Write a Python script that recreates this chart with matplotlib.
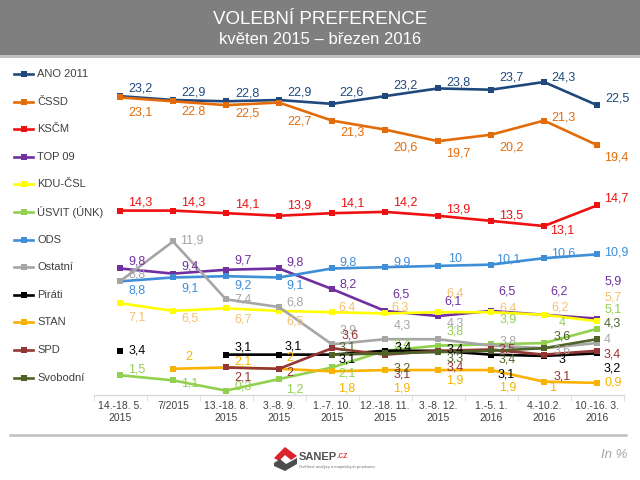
import numpy as np
import matplotlib
matplotlib.use("Agg")
import matplotlib.pyplot as plt
from matplotlib.lines import Line2D
from matplotlib.patches import Polygon, Rectangle

plt.rcParams['font.family'] = ['Liberation Sans', 'DejaVu Sans']

### DATA

periods = ["14.-18. 5.\n2015", "7/2015", "13.-18. 8.\n2015", "3.-8. 9.\n2015",
           "1.-7. 10.\n2015", "12.-18. 11.\n2015", "3.-8. 12.\n2015",
           "1.-5. 1.\n2016", "4.-10.2.\n2016", "10.-16. 3.\n2016"]

parties = ["ANO 2011", "ČSSD", "KSČM", "TOP 09", "KDU-ČSL", "ÚSVIT (ÚNK)",
           "ODS", "Ostatní", "Piráti", "STAN", "SPD", "Svobodní"]

nan = np.nan
ano = [23.2, 22.9, 22.8, 22.9, 22.6, 23.2, 23.8, 23.7, 24.3, 22.5]
cssd = [23.1, 22.8, 22.5, 22.7, 21.3, 20.6, 19.7, 20.2, 21.3, 19.4]
kscm = [14.3, 14.3, 14.1, 13.9, 14.1, 14.2, 13.9, 13.5, 13.1, 14.7]
top09 = [9.8, 9.4, 9.7, 9.8, 8.2, 6.5, 6.1, 6.5, 6.2, 5.9]
kdu = [7.1, 6.5, 6.7, 6.5, 6.4, 6.3, 6.4, 6.4, 6.2, 5.7]
usvit = [1.5, 1.1, 0.3, 1.2, 2.1, 3.4, 3.8, 3.9, 4.0, 5.1]
ods = [8.8, 9.1, 9.2, 9.1, 9.8, 9.9, 10.0, 10.1, 10.6, 10.9]
ostatni = [8.8, 11.9, 7.4, 6.8, 3.9, 4.3, 4.3, 3.8, 3.6, 4.0]
pirati = [3.4, nan, 3.1, 3.1, 3.1, 3.4, 3.4, 3.1, 3.0, 3.2]
stan = [nan, 2.0, 2.1, 2.0, 1.8, 1.9, 1.9, 1.9, 1.0, 0.9]
spd = [nan, nan, 2.1, 2.0, 3.6, 3.1, 3.4, 3.5, 3.1, 3.4]
svobodni = [nan, nan, nan, nan, 3.1, 3.2, 3.3, 3.4, 3.6, 4.3]

series = [ano, cssd, kscm, top09, kdu, usvit, ods, ostatni, pirati, stan, spd, svobodni]

# label text as printed in the source (one label uses a dot)
label_text_fix = {(1, 1): "22.8"}

### STYLE

line_colors = ['#1f497d', '#e36c09', '#ee1111', '#7030a0', '#ffff00', '#92d050',
               '#3f8ed8', '#a6a6a6', '#000000', '#f9b200', '#943634', '#4f6228']
label_colors = ['#1f497d', '#e36c09', '#ee1111', '#7030a0', '#f4c06f', '#92d050',
                '#3f8ed8', '#a6a6a6', '#000000', '#f6b400', '#943634', '#4f6228']

# label centre offsets from the marker, image pixels (dx right, dy down)
label_pos = [
    [(20, -8), (20, -8), (21, -8), (20, -8), (19, -11), (20, -11), (20, -6), (20, -12), (19, -5), (20, -7)],
    [(20, 15), (20, 11), (21, 8), (20, 19), (20, 12), (20, 18), (20, 12), (21, 13), (19, -3), (19, 12)],
    [(20, -8), (20, -8), (21, -9), (20, -10), (20, -10), (20, -9), (20, -6), (20, -5), (18, 4), (19, -7)],
    [(17, -7), (17, -7), (17, -9), (16, -6), (16, -5), (16, -16), (15, -15), (16, -19), (15, -23), (16, -37)],
    [(17, 14), (17, 8), (17, 11), (16, 11), (15, -5), (15, -6), (17, -19), (17, -4), (16, -7), (16, -24)],
    [(17, -6), (17, 3), (17, -4), (16, 10), (15, 6), (17, -6), (17, -14), (17, -25), (18, -20), (16, -19)],
    [(17, 9), (17, 11), (17, 9), (16, 8), (16, -6), (17, -5), (17, -7), (17, -5), (19, -5), (19, -2)],
    [(17, -7), (19, -1), (17, 0), (16, -5), (16, -14), (17, -14), (17, -16), (17, -4), (18, 2), (10, -3)],
    [(17, 0), None, (17, -7), (14, -8), (15, 5), (18, -3), (17, -1), (15, 20), (18, 4), (15, 15)],
    [None, (16, -12), (17, -6), (11, -11), (15, 17), (17, 18), (17, 10), (17, 17), (9, 6), (16, 0)],
    [None, None, (17, 10), (11, 4), (18, -13), (17, 20), (17, 17), (16, 0), (18, 22), (15, 4)],
    [None, None, None, None, (15, -7), (17, 15), (17, 6), (16, 9), (18, -12), (15, -16)],
]

W, H = 640, 480


def fx(px):
    return px / W


def fy(py):
    return 1 - py / H


fig = plt.figure(figsize=(6.4, 4.8), dpi=100)
fig.patch.set_facecolor('white')

## header band
fig.add_artist(Rectangle((0, fy(55)), 1, 55 / H, transform=fig.transFigure,
                         facecolor='#7f7f7f', edgecolor='none'))
fig.add_artist(Rectangle((0, fy(58)), 1, 3 / H, transform=fig.transFigure,
                         facecolor='#bfbfbf', edgecolor='none'))
fig.text(0.5, fy(19), "VOLEBNÍ PREFERENCE", color='white', fontsize=13.5,
         ha='center', va='center')
fig.text(0.5, fy(39), "květen 2015 – březen 2016", color='white', fontsize=12,
         ha='center', va='center')

## plot area
y_top = 25.5
px_per_unit = 12.86
ax = fig.add_axes([fx(93.5), fy(394.5), fx(530), (y_top * px_per_unit) / H])
ax.set_xlim(-0.5, 9.5)
ax.set_ylim(0, y_top)
ax.patch.set_alpha(0)

x = np.arange(len(periods))
for k, vals in enumerate(series):
    ax.plot(x, vals, color=line_colors[k], lw=1.9, marker='s', markersize=4.5,
            markeredgewidth=0, zorder=2 + k * 0.01, clip_on=False)

for k, vals in enumerate(series):
    for i, v in enumerate(vals):
        if np.isnan(v) or label_pos[k][i] is None:
            continue
        txt = label_text_fix.get((k, i), f"{v:g}".replace(".", ","))
        dx, dy = label_pos[k][i]
        ax.annotate(txt, (i, v), xytext=(dx, -dy), textcoords='offset pixels',
                    ha='center', va='center', fontsize=9, color=label_colors[k],
                    zorder=5, annotation_clip=False)

for side in ['top', 'right', 'left']:
    ax.spines[side].set_visible(False)
ax.spines['bottom'].set_color('#d9d9d9')
ax.spines['bottom'].set_linewidth(1)
ax.set_yticks([])
ax.set_xticks(x)
ax.set_xticklabels(periods, fontsize=7.5, color='#404040', linespacing=1.25)
ax.tick_params(axis='x', which='major', length=0, pad=5)
ax.set_xticks(np.arange(-0.5, 10, 1), minor=True)
ax.tick_params(axis='x', which='minor', length=4, color='#d9d9d9')

## legend on the left
for k, name in enumerate(parties):
    ly = 74 + 27.6 * k
    fig.add_artist(Line2D([fx(14), fx(33)], [fy(ly), fy(ly)], transform=fig.transFigure,
                          color=line_colors[k], lw=1.9))
    fig.add_artist(Line2D([fx(23.5)], [fy(ly)], transform=fig.transFigure,
                          color=line_colors[k], marker='s', markersize=4.5,
                          markeredgewidth=0))
    fig.text(fx(37), fy(ly), name, fontsize=8, color='#404040', va='center', ha='left')

## footer
fig.add_artist(Line2D([fx(10), fx(626)], [fy(435), fy(435)], transform=fig.transFigure,
                      color='#bfbfbf', lw=1.8))
fig.text(fx(627), fy(455), "In %", fontsize=9.5, style='italic', color='#a6a6a6',
         ha='right', va='center')

# SANEP logo (rough)
red_pts = [(274, 458), (285, 447), (297, 456), (291, 460), (285, 455), (279, 461)]
gray_pts = [(274, 463), (280, 459), (286, 464), (297, 458), (297, 464), (285, 471), (274, 466)]
fig.add_artist(Polygon([(fx(a), fy(b)) for a, b in red_pts], closed=True,
                       transform=fig.transFigure, facecolor='#d9232d', edgecolor='none'))
fig.add_artist(Polygon([(fx(a), fy(b)) for a, b in gray_pts], closed=True,
                       transform=fig.transFigure, facecolor='#4d4d4d', edgecolor='none'))
fig.text(fx(299), fy(457), "SANEP", fontsize=8, fontweight='bold', color='#505050',
         ha='left', va='center')
fig.text(fx(336), fy(456), ".cz", fontsize=6.5, color='#d9232d', ha='left', va='center')
fig.text(fx(299), fy(467), "Ověřené analýzy a empirických průzkumů", fontsize=3,
         color='#707070', ha='left', va='center')

fig.savefig("out.png", dpi=100)
